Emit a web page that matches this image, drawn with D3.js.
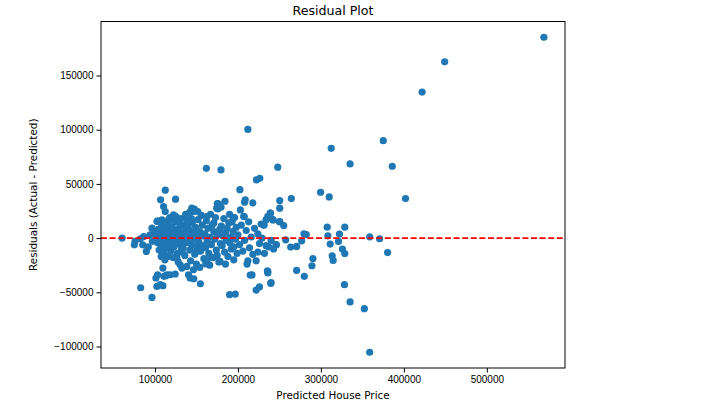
<!DOCTYPE html>
<html lang="en">
<head>
    <meta charset="UTF-8">
    <title>Residual Plot</title>
    <style>
        body { margin: 0; background: #fff; }
        svg { font-family: "DejaVu Sans", sans-serif; }
        .axis path, .axis line { stroke: #000; }
        .axis text { font-size: 10px; fill: #000; }
    </style>
</head>
<body>
    <svg id="chart" width="706" height="410"></svg>
    <script src="https://d3js.org/d3.v7.min.js"></script>
    <script>
        // [predicted price, residual]
        const highPricePoints = [
            [568800, 185300], [449200, 162600], [422000, 134700], [375200, 89900],
            [386000, 66300], [402000, 36500], [358800, 1200], [370800, -600],
            [380400, -13300], [352400, -65100], [358800, -105300], [335200, -58900],
            [328400, -43000]
        ];

        const midPricePoints = [
            [312400, 82800], [335200, 68400], [248000, 65400], [299600, 42300],
            [310000, 38000], [264400, 36500], [250400, 34600], [250400, 27600],
            [255200, 11600], [246400, -6200], [257600, -1600], [263600, -8300],
            [270800, -7700], [279600, 4000], [282400, 3300], [276800, -2500],
            [270800, -29800], [280000, -35300], [290400, -18800], [289200, -25500],
            [307600, 10100], [308400, 2100], [311200, -5500], [328800, 10100],
            [322400, 3700], [321200, -3100], [313600, -16300], [314800, -20600],
            [326000, -10100], [328800, -14200]
        ];

        const upperPoints = [
            [212000, 100300], [162000, 64400], [179600, 62900], [112400, 44200],
            [106800, 35300], [124800, 35900], [202400, 44700], [222400, 53700],
            [226400, 55200], [175200, 31900], [184400, 34000], [208000, 33100],
            [208800, 35300], [218000, 32500], [147600, 26700], [151600, 24500],
            [162400, 19900], [174400, 27600], [179600, 28500], [176400, 31600],
            [194400, 18400], [207600, 19900], [239200, 23000], [242400, 16800],
            [250400, 15300], [231600, 12200], [110400, 29100], [112400, 24500],
            [122400, 21500], [144400, 27600], [146400, 24500], [145600, 26000],
            [138400, 16800], [140400, 15300], [103200, 15900], [102400, 15300],
            [108400, 16800], [116400, 16800]
        ];

        const lowerPoints = [
            [60400, 0], [75200, -6200], [76000, -3000], [82400, -600],
            [85200, -6200], [86400, 1500], [89600, -12300], [92000, -8000],
            [94000, 3000], [96400, 9200], [97000, -3000], [100400, 5200],
            [107600, -16900], [109600, -27600], [114400, -33800], [103200, -33800],
            [101200, -36800], [102400, -44600], [82800, -45800], [96400, -54700],
            [106400, -43000], [109600, -43900], [113200, -34700], [118400, -33800],
            [124400, -33100], [126400, -18400], [130400, -24600], [138400, -26100],
            [140400, -33800], [142400, -36800], [146800, -37500], [154800, -42100],
            [161200, -23700], [178400, -21500], [190000, -52200], [196800, -51600],
            [222000, -47900], [239600, -41800], [214800, -34100], [236000, -32200],
            [235600, -30100], [132400, -27600], [146400, -29200], [110800, -35300]
        ];

        const clusterPoints = [
            [101000, 3000], [103000, -4000], [104000, 8000], [105000, -11000], [106000, 1000],
            [107000, -7000], [108000, 12000], [109000, -2000], [110000, 5000], [111000, -14000],
            [112000, 9000], [113000, -5000], [114000, 2000], [115000, -9000], [116000, 14000],
            [117000, -1000], [118000, 6000], [119000, -12000], [112000, -20000], [116000, -17000],
            [118000, 19000], [114000, 11000], [119000, 1000], [110000, -8000], [106000, 7000],
            [120000, -4000], [121000, 10000], [122000, 3000], [123000, -8000], [124000, 15000],
            [125000, -2000], [126000, 6000], [127000, -14000], [128000, 1000], [129000, 9000],
            [130000, -6000], [131000, 18000], [132000, -10000], [133000, 4000], [134000, -1000],
            [135000, 12000], [136000, -16000], [137000, 7000], [138000, -4000], [139000, 2000],
            [122000, -18000], [125000, 20000], [128000, -22000], [130000, 13000], [134000, -9000],
            [137000, 22000], [126000, -1000], [133000, -13000], [121000, -7000], [139000, 11000],
            [140000, -2000], [141000, 8000], [142000, -11000], [143000, 3000], [144000, -6000],
            [145000, 14000], [146000, -1000], [147000, 5000], [148000, -15000], [149000, 10000],
            [150000, -8000], [151000, 1000], [152000, 17000], [153000, -4000], [154000, 6000],
            [155000, -12000], [156000, 21000], [157000, -7000], [158000, 2000], [159000, -19000],
            [143000, -21000], [147000, 25000], [150000, -24000], [154000, -27000], [144000, 18000],
            [157000, 12000], [142000, 24000], [149000, -13000], [152000, -3000],
            [160000, 4000], [161000, -9000], [162000, 16000], [163000, -3000], [164000, 9000],
            [165000, -14000], [166000, 1000], [167000, 22000], [168000, -6000], [169000, 12000],
            [170000, -18000], [171000, 6000], [172000, -1000], [173000, 19000], [174000, -11000],
            [175000, 3000], [176000, 27000], [177000, -22000], [178000, 8000], [179000, -5000],
            [166000, -25000], [171000, 14000], [175000, -16000], [163000, -20000],
            [180000, 11000], [181000, -7000], [182000, 2000], [183000, 18000], [184000, -13000],
            [185000, 5000], [186000, -2000], [187000, 9000], [188000, -17000], [189000, 14000],
            [190000, -4000], [191000, 1000], [192000, -10000], [193000, 15000], [194000, 6000],
            [195000, -8000], [196000, 19000], [197000, -1000], [198000, 10000], [199000, -14000],
            [185000, -24000], [190000, 22000], [195000, -20000],
            [200000, 3000], [202000, -6000], [204000, 12000], [206000, -12000], [207000, 20000],
            [208000, -2000], [210000, 7000], [212000, -21000], [213000, 15000], [214000, -9000],
            [216000, 1000], [218000, -15000], [220000, 9000], [222000, -21000], [224000, 4000],
            [226000, -5000], [228000, 13000], [217000, -34000], [211000, -24000], [203000, 26000],
            [224000, -13000], [229000, 0],
            [231000, 12000], [232000, -14000], [234000, 17000], [236000, -31000], [236000, 20000],
            [237000, -8000], [239000, 23000], [240000, -2000], [242000, 17000], [243000, -10000],
            [246000, -6000], [250000, 15000], [240000, -41000], [226000, -45000], [234000, -7000]
        ];

        const xTicks = [100000, 200000, 300000, 400000, 500000];
        const yTicks = [-100000, -50000, 0, 50000, 100000, 150000];

        const points = [].concat(clusterPoints, lowerPoints, upperPoints, midPricePoints, highPricePoints);

        const svg = d3.select("#chart");
        const plot = { left: 101, right: 565, top: 21.5, bottom: 368 };

        // matplotlib style 5% padding around the data
        function padded(ext) {
            const p = (ext[1] - ext[0]) * 0.05;
            return [ext[0] - p, ext[1] + p];
        }

        const x = d3.scaleLinear()
            .domain(padded(d3.extent(points, d => d[0])))
            .range([plot.left, plot.right]);
        const y = d3.scaleLinear()
            .domain(padded(d3.extent(points, d => d[1])))
            .range([plot.bottom, plot.top]);

        const fmt = d3.format("d");

        svg.append("g")
            .attr("class", "axis")
            .attr("transform", `translate(0,${plot.bottom})`)
            .call(d3.axisBottom(x).tickValues(xTicks).tickFormat(fmt).tickSizeOuter(0).tickSize(4.5).tickPadding(3));

        svg.append("g")
            .attr("class", "axis")
            .attr("transform", `translate(${plot.left},0)`)
            .call(d3.axisLeft(y).tickValues(yTicks).tickFormat(fmt).tickSizeOuter(0).tickSize(4.5).tickPadding(3));

        svg.selectAll(".axis path").remove();

        // dots
        svg.append("g")
            .selectAll("circle")
            .data(points)
            .join("circle")
            .attr("cx", d => x(d[0]))
            .attr("cy", d => y(d[1]))
            .attr("r", 3.6)
            .attr("fill", "#1f77b4");

        // zero line
        svg.append("line")
            .attr("x1", plot.left).attr("x2", plot.right)
            .attr("y1", y(0)).attr("y2", y(0))
            .attr("stroke", "#ff0000")
            .attr("stroke-width", 1.6)
            .attr("stroke-dasharray", "6,2.6");

        // frame
        svg.append("rect")
            .attr("x", plot.left).attr("y", plot.top)
            .attr("width", plot.right - plot.left).attr("height", plot.bottom - plot.top)
            .attr("fill", "none")
            .attr("stroke", "#000")
            .attr("stroke-width", 1);

        svg.append("text")
            .attr("x", (plot.left + plot.right) / 2).attr("y", 15)
            .attr("text-anchor", "middle")
            .attr("font-size", 12.6)
            .text("Residual Plot");

        svg.append("text")
            .attr("x", (plot.left + plot.right) / 2).attr("y", 399)
            .attr("text-anchor", "middle")
            .attr("font-size", 10.4)
            .text("Predicted House Price");

        svg.append("text")
            .attr("transform", `translate(37,${(plot.top + plot.bottom) / 2}) rotate(-90)`)
            .attr("text-anchor", "middle")
            .attr("font-size", 10.4)
            .text("Residuals (Actual - Predicted)");
    </script>
</body>
</html>
